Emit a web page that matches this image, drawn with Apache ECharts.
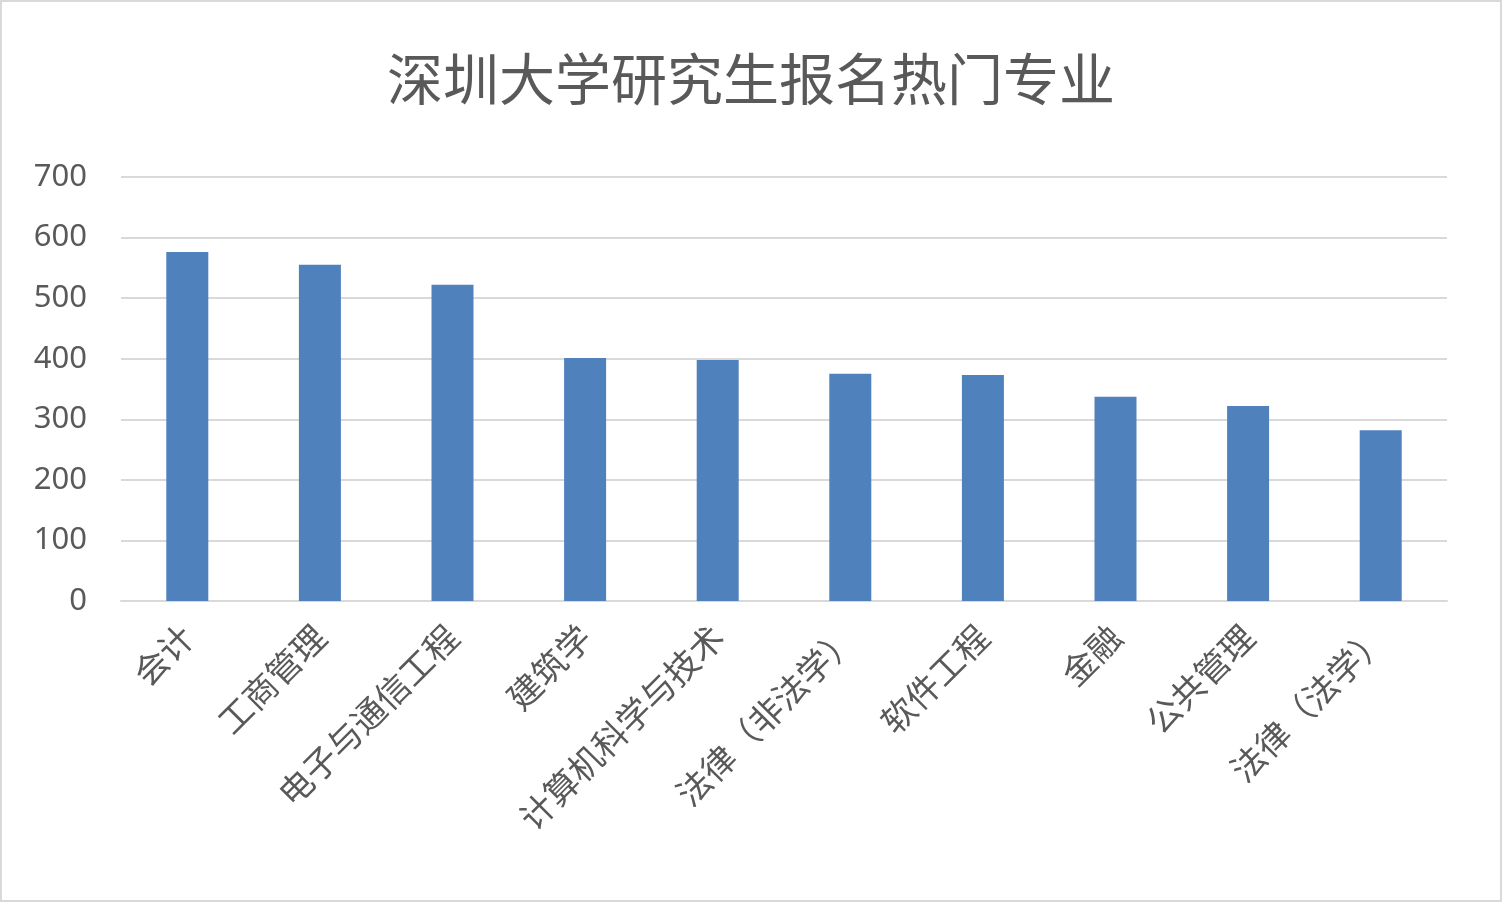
<!DOCTYPE html>
<html><head><meta charset="utf-8">
<script src="https://cdn.jsdelivr.net/npm/echarts@6/dist/echarts.min.js"></script>
<style>html,body{margin:0;padding:0;background:#fff}#c{width:1502px;height:902px;box-sizing:border-box;border:2px solid #d9d9d9}</style>
</head><body><div id="c"></div>
<script>
const categories=['会计','工商管理','电子与通信工程','建筑学','计算机科学与技术','法律（非法学）','软件工程','金融','公共管理','法律（法学）'];
const values=[576,555,522,401,398,375,373,337,322,282];
const yTicks=[0,100,200,300,400,500,600,700];
const chart=echarts.init(document.getElementById('c'));
chart.setOption({
  animation:false,
  title:{text:'深圳大学研究生报名热门专业',left:'center',top:44,textStyle:{fontFamily:'Noto Sans CJK SC',fontSize:56,fontWeight:'normal',color:'#595959'}},
  grid:{left:119,right:53,top:175,bottom:299,containLabel:false},
  xAxis:{type:'category',data:categories,axisTick:{show:false},axisLine:{lineStyle:{color:'#d9d9d9',width:2}},
    axisLabel:{rotate:45,interval:0,fontFamily:'Noto Sans CJK SC',fontSize:34,color:'#595959',margin:30}},
  yAxis:{type:'value',min:yTicks[0],max:yTicks[yTicks.length-1],interval:100,axisLine:{show:false},axisTick:{show:false},
    splitLine:{lineStyle:{color:'#d9d9d9',width:2}},axisLabel:{fontFamily:'Noto Sans',fontSize:31,color:'#595959',margin:34}},
  series:[{type:'bar',data:values,barWidth:42,itemStyle:{color:'#4f81bd'}}]
});
</script></body></html>
